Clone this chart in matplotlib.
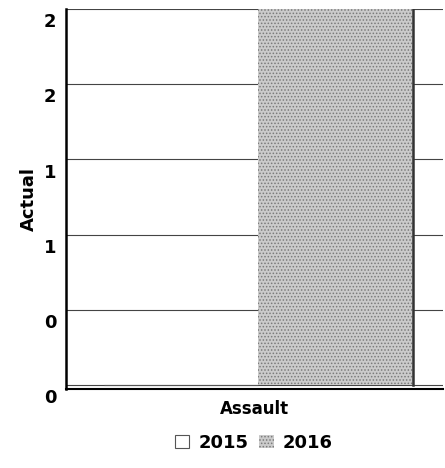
import matplotlib
matplotlib.use("Agg")
import matplotlib.pyplot as plt
import matplotlib.transforms as mtransforms
import numpy as np

categories = ["Assault"]
series_names = ["2015", "2016"]
values_2015 = [0]
values_2016 = [2]
ytick_values = [0, 0.4, 0.8, 1.2, 1.6, 2.0]
ytick_labels = ["0", "0", "1", "1", "2", "2"]

plt.rcParams['font.family'] = ['DejaVu Sans']
plt.rcParams['hatch.linewidth'] = 0.7

fig = plt.figure(figsize=(4.45, 4.68), dpi=100)
ax = fig.add_axes([0.148, 0.169, 0.848, 0.812])

x = np.arange(len(categories))
w = 0.41
b1 = ax.bar(x - w / 2 + 0.01, values_2015, w, color='white', edgecolor='#555555', linewidth=0.8, label=series_names[0], zorder=3)
b2 = ax.bar(x + w / 2 + 0.01, values_2016, w, color='#cbcbcb', edgecolor='#7a7a7a', hatch='.....', linewidth=0, label=series_names[1], zorder=3)
# dark right edge of the 2016 bar
for r in b2:
    ax.plot([r.get_x() + r.get_width()] * 2, [0, r.get_height()], color='#333333', lw=1.8, zorder=4)

ax.set_xlim(-0.5, 0.5)
ax.set_ylim(-0.02, 2.0)
ax.set_yticks(ytick_values)
ax.set_yticklabels(ytick_labels, fontsize=13, fontweight='bold')
ax.set_xticks(x)
ax.set_xticklabels(categories, fontsize=12, fontweight='bold')
ax.tick_params(axis='y', length=0, pad=7)
ax.tick_params(axis='x', length=0, pad=8)
offset = mtransforms.ScaledTranslation(0, -8 / 72, fig.dpi_scale_trans)
for lbl in ax.get_yticklabels():
    lbl.set_transform(lbl.get_transform() + offset)

ax.grid(axis='y', color='#444444', linewidth=0.8, zorder=0)
ax.set_axisbelow(True)
for s in ['top', 'right']:
    ax.spines[s].set_visible(False)
ax.spines['left'].set_linewidth(1.8)
ax.spines['bottom'].set_linewidth(1.5)

ax.set_ylabel("Actual", fontsize=13, fontweight='bold', labelpad=4)

leg = fig.legend(handles=[b1, b2], labels=series_names, loc='lower center',
                 bbox_to_anchor=(0.57, 0.0), ncol=2, frameon=False,
                 prop={'size': 13, 'weight': 'bold'},
                 handlelength=0.8, handleheight=0.8, handletextpad=0.5, columnspacing=0.6)

fig.savefig("out.png", dpi=100)
